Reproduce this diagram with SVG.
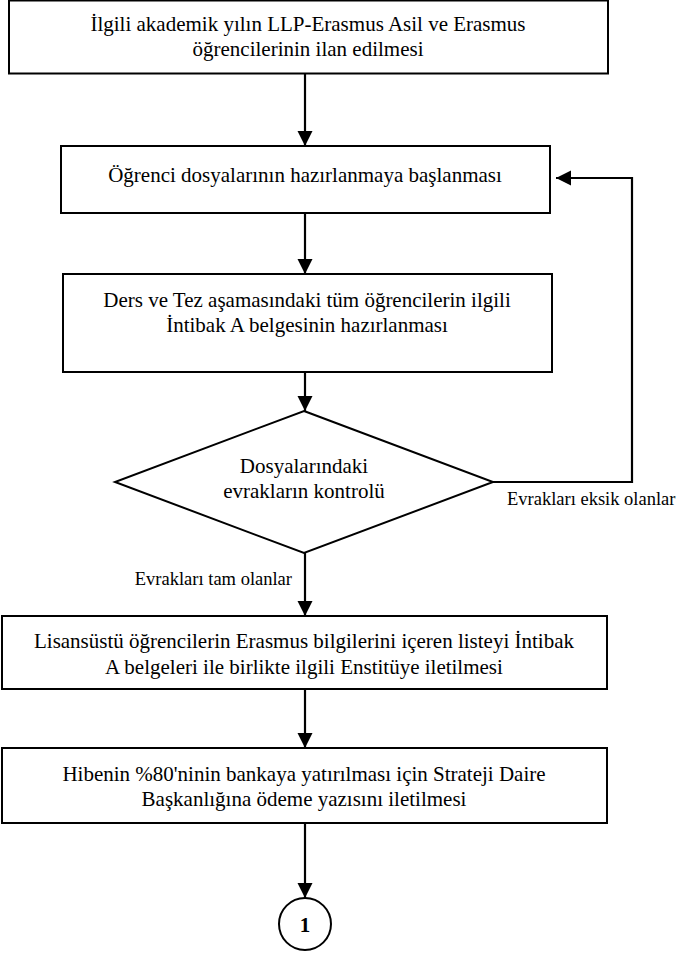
<svg xmlns="http://www.w3.org/2000/svg" width="676" height="953" viewBox="0 0 676 953">
<style>
.box{fill:#fff;stroke:#000;stroke-width:2}
.dia{fill:#fff;stroke:#000;stroke-width:2}
.c{fill:none;stroke:#000;stroke-width:2.2}
</style>
<defs>
<marker id="ah" markerUnits="userSpaceOnUse" markerWidth="16" markerHeight="16" refX="15" refY="7.5" orient="auto">
<path d="M0,0 L15,7.5 L0,15 z" fill="#000"/>
</marker>
</defs>
<rect width="676" height="953" fill="#fff"/>
<g font-family="Liberation Serif, DejaVu Serif, serif" font-size="21" text-anchor="middle" fill="#000">
<g id="n1">
<rect class="box" x="9" y="0.5" width="599" height="73"/>
<text x="308" y="31">İlgili akademik yılın LLP-Erasmus Asil ve Erasmus</text>
<text x="308" y="56">öğrencilerinin ilan edilmesi</text>
</g>
<g id="n2">
<rect class="box" x="61" y="146" width="489" height="67"/>
<text x="305" y="182">Öğrenci dosyalarının hazırlanmaya başlanması</text>
</g>
<g id="n3">
<rect class="box" x="63" y="274" width="489" height="98"/>
<text x="307" y="307">Ders ve Tez aşamasındaki tüm öğrencilerin ilgili</text>
<text x="307" y="332">İntibak A belgesinin hazırlanması</text>
</g>
<g id="n4">
<polygon class="dia" points="304,411 493,482 304,553 115,482"/>
<text x="304" y="473">Dosyalarındaki</text>
<text x="304" y="498">evrakların kontrolü</text>
</g>
<g id="n5">
<rect class="box" x="2" y="616" width="605" height="73"/>
<text x="304" y="648">Lisansüstü öğrencilerin Erasmus bilgilerini içeren listeyi İntibak</text>
<text x="304" y="674">A belgeleri ile birlikte ilgili Enstitüye iletilmesi</text>
</g>
<g id="n6">
<rect class="box" x="2" y="748" width="605" height="75"/>
<text x="304" y="781">Hibenin %80'ninin bankaya yatırılması için Strateji Daire</text>
<text x="304" y="806">Başkanlığına ödeme yazısını iletilmesi</text>
</g>
<g id="n7">
<circle cx="305" cy="924" r="26" fill="#fff" stroke="#000" stroke-width="2"/>
<text x="305" y="932" font-weight="bold">1</text>
</g>
</g>
<g id="connectors">
<line class="c" x1="305" y1="74" x2="305" y2="146" marker-end="url(#ah)"/>
<line class="c" x1="305" y1="213" x2="305" y2="274" marker-end="url(#ah)"/>
<line class="c" x1="305" y1="372" x2="305" y2="411" marker-end="url(#ah)"/>
<polyline class="c" points="493,482 632,482 632,178 556,178" marker-end="url(#ah)"/>
<line class="c" x1="305" y1="553" x2="305" y2="616" marker-end="url(#ah)"/>
<line class="c" x1="305" y1="689" x2="305" y2="748" marker-end="url(#ah)"/>
<line class="c" x1="305" y1="823" x2="305" y2="898" marker-end="url(#ah)"/>
<g font-family="Liberation Serif, DejaVu Serif, serif" font-size="18.5" fill="#000">
<text x="507" y="505">Evrakları eksik olanlar</text>
<text x="292" y="585" text-anchor="end">Evrakları tam olanlar</text>
</g>
</g>
</svg>
